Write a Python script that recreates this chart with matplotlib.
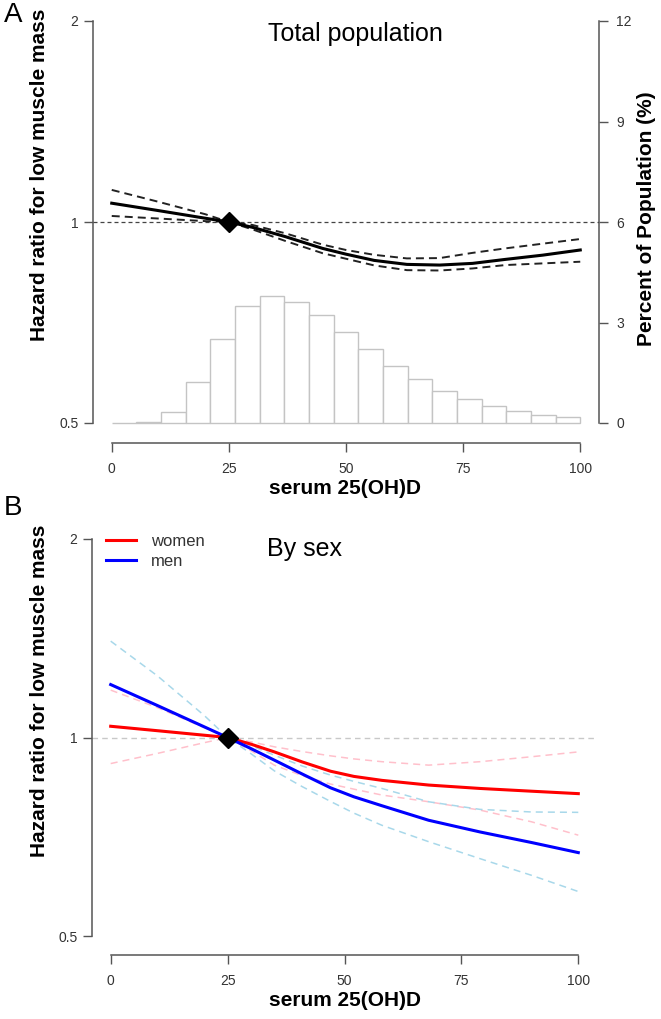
import matplotlib
matplotlib.use("Agg")
import matplotlib.pyplot as plt
from matplotlib.ticker import FixedLocator, NullLocator, FixedFormatter
from matplotlib.lines import Line2D
import numpy as np

plt.rcParams['font.family'] = ['Liberation Sans', 'DejaVu Sans']

# ---------------- data ----------------
# Panel A: total population
x_a = [0, 10, 20, 25, 30, 37, 45, 50, 56, 63, 70, 77, 84, 92, 100]
hr_a = [1.067, 1.040, 1.013, 1.0, 0.982, 0.951, 0.913, 0.895, 0.876, 0.864, 0.862, 0.867, 0.879, 0.892, 0.908]
up_a = [1.117, 1.072, 1.027, 1.0, 0.990, 0.962, 0.925, 0.908, 0.893, 0.882, 0.883, 0.899, 0.913, 0.928, 0.943]
lo_a = [1.021, 1.012, 1.003, 1.0, 0.975, 0.937, 0.898, 0.881, 0.861, 0.847, 0.846, 0.852, 0.862, 0.867, 0.872]

# histogram of serum 25(OH)D (percent of population)
hist_edges = list(np.linspace(0, 100, 20))
hist_pct = [0.0, 0.04, 0.33, 1.23, 2.51, 3.49, 3.78, 3.60, 3.23, 2.71,
            2.20, 1.70, 1.32, 0.97, 0.71, 0.51, 0.36, 0.25, 0.17]

# Panel B: by sex
x_b = [0, 10, 20, 25, 30, 35, 41, 47, 52, 58, 68, 79, 90, 100]
women = [1.040, 1.024, 1.008, 1.0, 0.977, 0.951, 0.918, 0.889, 0.873, 0.861, 0.847, 0.837, 0.829, 0.822]
women_up = [1.18, 1.11, 1.035, 1.0, 0.985, 0.968, 0.952, 0.938, 0.928, 0.919, 0.908, 0.919, 0.935, 0.951]
women_lo = [0.913, 0.946, 0.982, 1.0, 0.955, 0.908, 0.875, 0.850, 0.835, 0.818, 0.799, 0.776, 0.745, 0.711]
men = [1.203, 1.118, 1.038, 1.0, 0.962, 0.924, 0.880, 0.839, 0.813, 0.788, 0.749, 0.719, 0.693, 0.669]
men_up = [1.40, 1.24, 1.08, 1.0, 0.972, 0.940, 0.905, 0.877, 0.858, 0.837, 0.799, 0.778, 0.771, 0.770]
men_lo = [1.04, 1.025, 1.008, 1.0, 0.945, 0.890, 0.842, 0.800, 0.768, 0.736, 0.695, 0.655, 0.618, 0.584]

ref_x = 25
ref_hr = 1.0

x_ticks = [0, 25, 50, 75, 100]
hr_ticks = [0.5, 1, 2]
hr_labels = ['0.5', '1', '2']
pct_ticks = [0, 3, 6, 9, 12]

# ---------------- layout ----------------
W, H = 661, 1019
fig = plt.figure(figsize=(W / 100, H / 100), dpi=100)

AX_COL = '#555555'
TXT_COL = '#333333'


def px_axes(x0, x1, ytop, ybot):
    return fig.add_axes([x0 / W, 1 - ybot / H, (x1 - x0) / W, (ybot - ytop) / H])


def style_axis(ax):
    for s in ax.spines.values():
        s.set_color(AX_COL)
        s.set_linewidth(1.1)
    ax.tick_params(direction='out', length=6.5, width=1.0, color=AX_COL,
                   labelcolor=TXT_COL, labelsize=10)
    ax.tick_params(axis='y', pad=4)
    ax.tick_params(axis='x', pad=7)
    ax.spines['top'].set_visible(False)
    ax.spines['right'].set_visible(False)
    ax.spines['left'].set_bounds(0.5, 2)
    ax.spines['bottom'].set_bounds(0, 100)
    ax.spines['bottom'].set_position(('outward', 2))
    ax.set_xlim(-4, 104)
    ax.set_yscale('log')
    ax.yaxis.set_major_locator(FixedLocator(hr_ticks))
    ax.yaxis.set_major_formatter(FixedFormatter(hr_labels))
    ax.yaxis.set_minor_locator(NullLocator())
    ax.set_xticks(x_ticks)
    ax.set_xticklabels([str(t) for t in x_ticks])
    ax.patch.set_alpha(0)


# ---- Panel A ----
axA = px_axes(93, 599, 5, 440)
axH = axA.twinx()
axA.set_zorder(axH.get_zorder() + 1)
style_axis(axA)
# y-limits so that 1 sits at y=222px, 201px per doubling
axA.set_ylim(2 ** (-(440 - 222) / 201), 2 ** ((222 - 5) / 201))

# histogram on twin axis
axH.hist(hist_edges[:-1], bins=hist_edges, weights=hist_pct,
         facecolor='white', edgecolor='#c4c4c4', linewidth=1.0)
axH.set_ylim(-(440 - 423) / 33.5, (423 - 5) / 33.5)
axH.set_xlim(-4, 104)
for s in ['top', 'left', 'bottom']:
    axH.spines[s].set_visible(False)
axH.spines['right'].set_bounds(0, 12)
axH.spines['right'].set_color(AX_COL)
axH.spines['right'].set_linewidth(1.1)
axH.set_yticks(pct_ticks)
axH.set_yticklabels([str(t) for t in pct_ticks])
axH.tick_params(axis='y', direction='out', length=6.5, width=1.0, color=AX_COL,
                labelcolor=TXT_COL, labelsize=10, pad=6)
axH.tick_params(axis='x', bottom=False, labelbottom=False)

axA.axhline(1.0, color='#444444', lw=0.9, dashes=(3.2, 2.4))
axA.plot(x_a, up_a, color='#222222', lw=1.4, dashes=(4.1, 2.6))
axA.plot(x_a, lo_a, color='#222222', lw=1.4, dashes=(4.1, 2.6))
axA.plot(x_a, hr_a, color='black', lw=2.2)
axA.plot([ref_x], [ref_hr], marker='D', color='black', markersize=10, zorder=5)

fig.text(355 / W, 1 - 34 / H, 'Total population', fontsize=18, ha='center', va='center')
fig.text(13 / W, 1 - 15 / H, 'A', fontsize=20, ha='center', va='center')
fig.text(40 / W, 1 - 175 / H, 'Hazard ratio for low muscle mass', fontsize=15,
         fontweight='bold', rotation=90, ha='center', va='center')
fig.text(647 / W, 1 - 219 / H, 'Percent of Population (%)', fontsize=15,
         fontweight='bold', rotation=90, ha='center', va='center')
fig.text(345 / W, 1 - 489 / H, 'serum 25(OH)D', fontsize=15,
         fontweight='bold', ha='center', va='center')

# ---- Panel B ----
axB = px_axes(92, 597, 523, 952)
style_axis(axB)
axB.set_ylim(2 ** (-(952 - 737.5) / 198.5), 2 ** ((737.5 - 523) / 198.5))

axB.axhline(1.0, color='#c8c8c8', lw=1.0, dashes=(4.0, 3.0))
for ys, c in [(women_up, '#ffc0cb'), (women_lo, '#ffc0cb'),
              (men_up, '#a8d8ea'), (men_lo, '#a8d8ea')]:
    axB.plot(x_b, ys, color=c, lw=1.1, dashes=(4.6, 3.3))
axB.plot(x_b, women, color='#ff0000', lw=2.2)
axB.plot(x_b, men, color='#0000ff', lw=2.2)
axB.plot([ref_x], [ref_hr], marker='D', color='black', markersize=10, zorder=5)

handles = [Line2D([], [], color='#ff0000', lw=2.2), Line2D([], [], color='#0000ff', lw=2.2)]
leg = fig.legend(handles, ['women', 'men'], loc='upper left',
                 bbox_to_anchor=(106 / W, 1 - 534 / H), frameon=False,
                 fontsize=12, handlelength=1.8, handletextpad=0.9,
                 labelspacing=0.3, borderpad=0, borderaxespad=0)
for t in leg.get_texts():
    t.set_color(TXT_COL)

fig.text(267 / W, 1 - 549 / H, 'By sex', fontsize=18, ha='left', va='center')
fig.text(13 / W, 1 - 508 / H, 'B', fontsize=20, ha='center', va='center')
fig.text(40 / W, 1 - 691 / H, 'Hazard ratio for low muscle mass', fontsize=15,
         fontweight='bold', rotation=90, ha='center', va='center')
fig.text(345 / W, 1 - 1000 / H, 'serum 25(OH)D', fontsize=15,
         fontweight='bold', ha='center', va='center')

fig.savefig('out.png', dpi=100)
